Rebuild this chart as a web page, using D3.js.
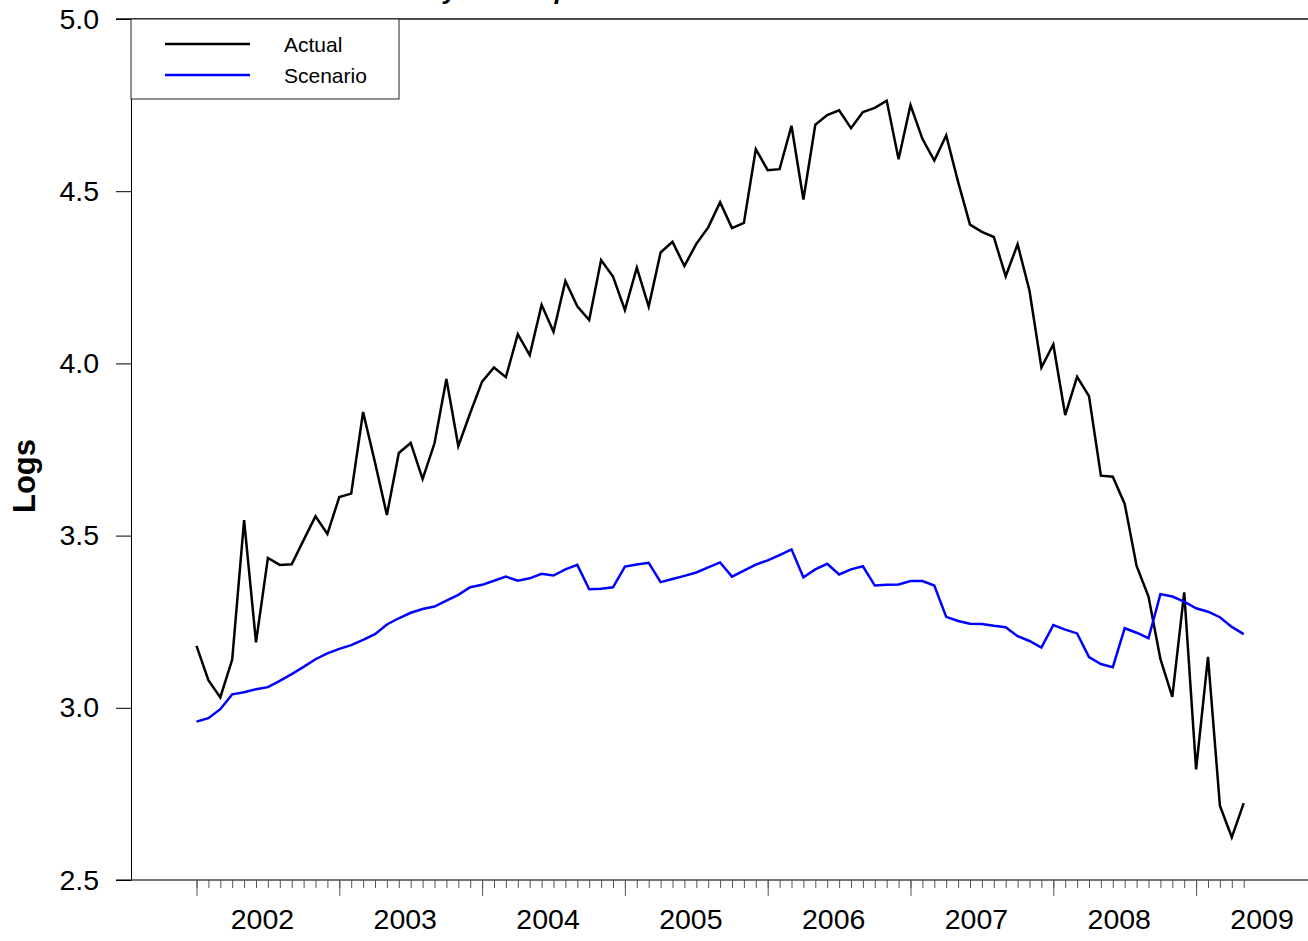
<!DOCTYPE html>
<html>
<head>
<meta charset="utf-8">
<script src="https://cdn.jsdelivr.net/npm/d3@7"></script>
<style>
  body { margin: 0; background: #fff; }
  svg { display: block; font-family: "Liberation Sans", Arial, sans-serif; }
</style>
</head>
<body>
<div class="canvas"></div>
<script>
// data: monthly values, Jan 2002 .. May 2009
const years = ['2002', '2003', '2004', '2005', '2006', '2007', '2008', '2009'];
const yTicks = [2.5, 3.0, 3.5, 4.0, 4.5, 5.0];
const seriesNames = ['Actual', 'Scenario'];

const actual = [
  3.18, 3.08, 3.03, 3.14, 3.545, 3.19, 3.435, 3.415, 3.417, 3.487, 3.556, 3.505,
  3.612, 3.622, 3.859, 3.712, 3.56, 3.74, 3.769, 3.664, 3.768, 3.955, 3.76, 3.856,
  3.947, 3.988, 3.96, 4.085, 4.024, 4.17, 4.092, 4.239, 4.166, 4.126, 4.30, 4.252,
  4.155, 4.278, 4.165, 4.322, 4.353, 4.283, 4.347, 4.395, 4.468, 4.393, 4.408, 4.622,
  4.561, 4.564, 4.69, 4.476, 4.693, 4.721, 4.735, 4.683, 4.73, 4.742, 4.763, 4.593,
  4.75, 4.652, 4.589, 4.662, 4.527, 4.403, 4.382, 4.367, 4.253, 4.346, 4.211, 3.988,
  4.055, 3.85, 3.961, 3.905, 3.674, 3.671, 3.592, 3.412, 3.323, 3.142, 3.032, 3.335,
  2.821, 3.148, 2.716, 2.624, 2.723
];

const scenario = [
  2.960, 2.970, 2.996, 3.039, 3.045, 3.054, 3.060, 3.078, 3.098, 3.119, 3.141, 3.158,
  3.171, 3.182, 3.197, 3.214, 3.242, 3.260, 3.276, 3.287, 3.294, 3.311, 3.328, 3.350,
  3.357, 3.369, 3.381, 3.369, 3.376, 3.389, 3.384, 3.402, 3.415, 3.344, 3.346, 3.350,
  3.410, 3.416, 3.421, 3.365, 3.374, 3.383, 3.393, 3.408, 3.422, 3.381, 3.398, 3.416,
  3.428, 3.443, 3.460, 3.379, 3.402, 3.418, 3.387, 3.402, 3.411, 3.355, 3.357, 3.358,
  3.368, 3.368, 3.355, 3.264, 3.252, 3.244, 3.243, 3.238, 3.234, 3.208, 3.194, 3.175,
  3.240, 3.227, 3.216, 3.147, 3.127, 3.118, 3.231, 3.218, 3.202, 3.330, 3.323, 3.308,
  3.289, 3.279, 3.263, 3.235, 3.214
];

const width = 1308, height = 941;
const plot = { left: 131, top: 19, bottom: 880, right: 1308 };

const svg = d3.select('.canvas')
  .append('svg')
  .attr('width', width)
  .attr('height', height);

// scales (x = month index from Jan 2002)
const x = d3.scaleLinear().domain([0, actual.length - 1]).range([196.5, 1243.7]);
const y = d3.scaleLinear().domain([2.5, 5.0]).range([plot.bottom, plot.top]);

// title, cut off at the top edge as in the original
svg.append('text')
  .attr('x', 364)
  .attr('y', -1)
  .attr('font-size', 26)
  .attr('font-weight', 'bold')
  .attr('font-style', 'italic')
  .text('Activity in Europe');

// frame lines
svg.append('line')
  .attr('x1', 116).attr('x2', plot.right)
  .attr('y1', plot.top).attr('y2', plot.top)
  .attr('stroke', '#111').attr('stroke-width', 1.5);

svg.append('line')
  .attr('x1', 116).attr('x2', plot.right)
  .attr('y1', plot.bottom).attr('y2', plot.bottom)
  .attr('stroke', '#777').attr('stroke-width', 2);

// y axis
const yAxis = d3.axisLeft(y)
  .tickValues(yTicks)
  .tickSize(15)
  .tickSizeOuter(0)
  .tickPadding(17)
  .tickFormat(d3.format('.1f'));

const yaxisGroup = svg.append('g')
  .attr('transform', `translate(${plot.left},0)`)
  .call(yAxis);
yaxisGroup.select('.domain').attr('stroke', '#000');
yaxisGroup.selectAll('.tick line').attr('stroke', '#000');
yaxisGroup.selectAll('text')
  .attr('font-size', 28.5)
  .attr('font-family', '"Liberation Sans", Arial, sans-serif')
  .attr('fill', '#000');

// x axis: minor monthly ticks, major yearly ticks, labels mid-year
const minorAxis = d3.axisBottom(x)
  .tickValues(d3.range(0, actual.length))
  .tickSize(8).tickSizeOuter(0).tickFormat('');
const majorAxis = d3.axisBottom(x)
  .tickValues(d3.range(0, actual.length, 12))
  .tickSize(16).tickSizeOuter(0).tickFormat('');
const labelAxis = d3.axisBottom(x)
  .tickValues(years.map((d, i) => i * 12 + 5.5))
  .tickSize(0).tickPadding(29)
  .tickFormat((d, i) => years[i]);

[minorAxis, majorAxis, labelAxis].forEach(ax => {
  const g = svg.append('g')
    .attr('transform', `translate(0,${plot.bottom})`)
    .call(ax);
  g.select('.domain').remove();
  g.selectAll('.tick line').attr('stroke', '#555').attr('stroke-width', 1);
  g.selectAll('text')
    .attr('font-size', 28.5)
    .attr('font-family', '"Liberation Sans", Arial, sans-serif')
    .attr('fill', '#000');
});

// y axis title
svg.append('text')
  .attr('transform', 'translate(35,476) rotate(-90)')
  .attr('text-anchor', 'middle')
  .attr('font-size', 31)
  .attr('font-weight', 'bold')
  .text('Logs');

// lines
const line = d3.line()
  .x((d, i) => x(i))
  .y(d => y(d));

const colors = ['#000000', '#0000ff'];
[actual, scenario].forEach((s, k) => {
  svg.append('path')
    .datum(s)
    .attr('fill', 'none')
    .attr('stroke', colors[k])
    .attr('stroke-width', 2.5)
    .attr('stroke-linejoin', 'miter')
    .attr('d', line);
});

// legend
const legend = svg.append('g');
legend.append('rect')
  .attr('x', plot.left).attr('y', plot.top)
  .attr('width', 268).attr('height', 80)
  .attr('fill', '#fff')
  .attr('stroke', '#222').attr('stroke-width', 1);

seriesNames.forEach((name, k) => {
  const ly = 44 + k * 31;
  legend.append('line')
    .attr('x1', 165).attr('x2', 250)
    .attr('y1', ly).attr('y2', ly)
    .attr('stroke', colors[k]).attr('stroke-width', 2.5);
  legend.append('text')
    .attr('x', 284).attr('y', ly + 8)
    .attr('font-size', 21)
    .text(name);
});
</script>
</body>
</html>
